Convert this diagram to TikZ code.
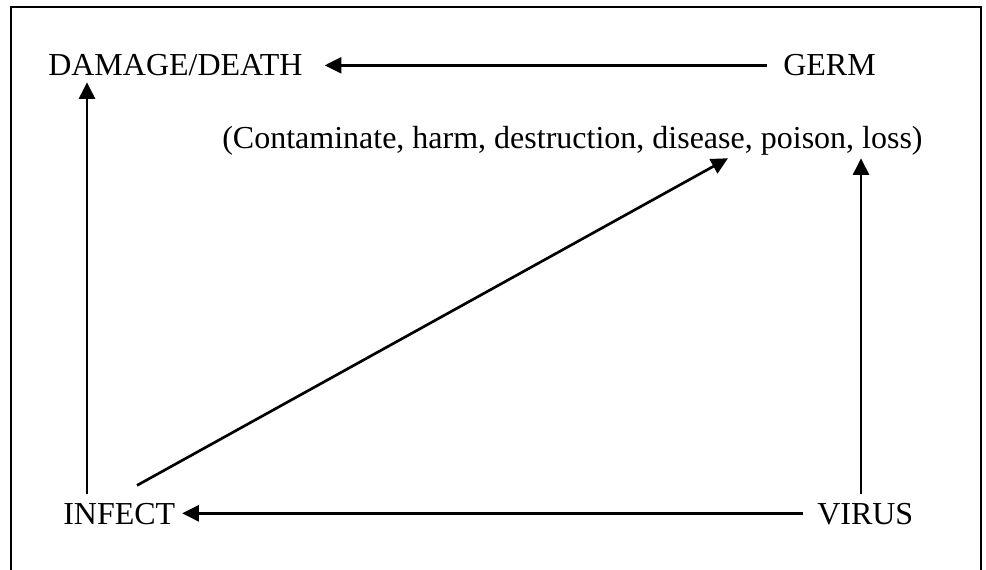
\documentclass[tikz,border=0pt]{standalone}
\usepackage{fontspec}
\setmainfont{Liberation Serif}
\usetikzlibrary{arrows.meta,calc}
\begin{document}
\begin{tikzpicture}[x=0.75pt,y=-0.75pt,
  word/.style={inner sep=0pt,anchor=base west,font=\fontsize{24}{28}\selectfont,
    text height=16pt,text depth=0pt},
  arr/.style={line width=2pt,-{Triangle[length=12.5pt,width=12pt]}},
  frame/.style={line width=1pt}]
  \useasboundingbox (0,0) rectangle (986,570);
  % open frame around the diagram
  \draw[frame] (11,572) -- (11,7) -- (981,7) -- (981,572);

  % terms
  \node[word] (damage) at (48,76) {DAMAGE/DEATH};
  \node[word] (germ) at (783,76) {GERM};
  \node[word] (effects) at (222,149) {(Contaminate, harm, destruction, disease, poison, loss)};
  \node[word] (infect) at (63,524) {INFECT};
  \node[word] (virus) at (817,524) {VIRUS};

  % links
  \draw[arr] ([xshift=-12pt]germ.west) -- ([xshift=16.5pt]damage.east);
  \draw[arr] ([xshift=-10.5pt]virus.west) -- ([xshift=5pt]infect.east);
  \draw[arr] ($(infect.north west)+(24,-8)$) -- ($(damage.south west)+(39,6)$);
  \draw[arr] ($(infect.north west)+(74,-17)$) -- ($(effects.south west)+(506,9)$);
  \draw[arr] ($(virus.north west)+(44,-8)$) -- ($(effects.south west)+(639,9)$);
\end{tikzpicture}
\end{document}
